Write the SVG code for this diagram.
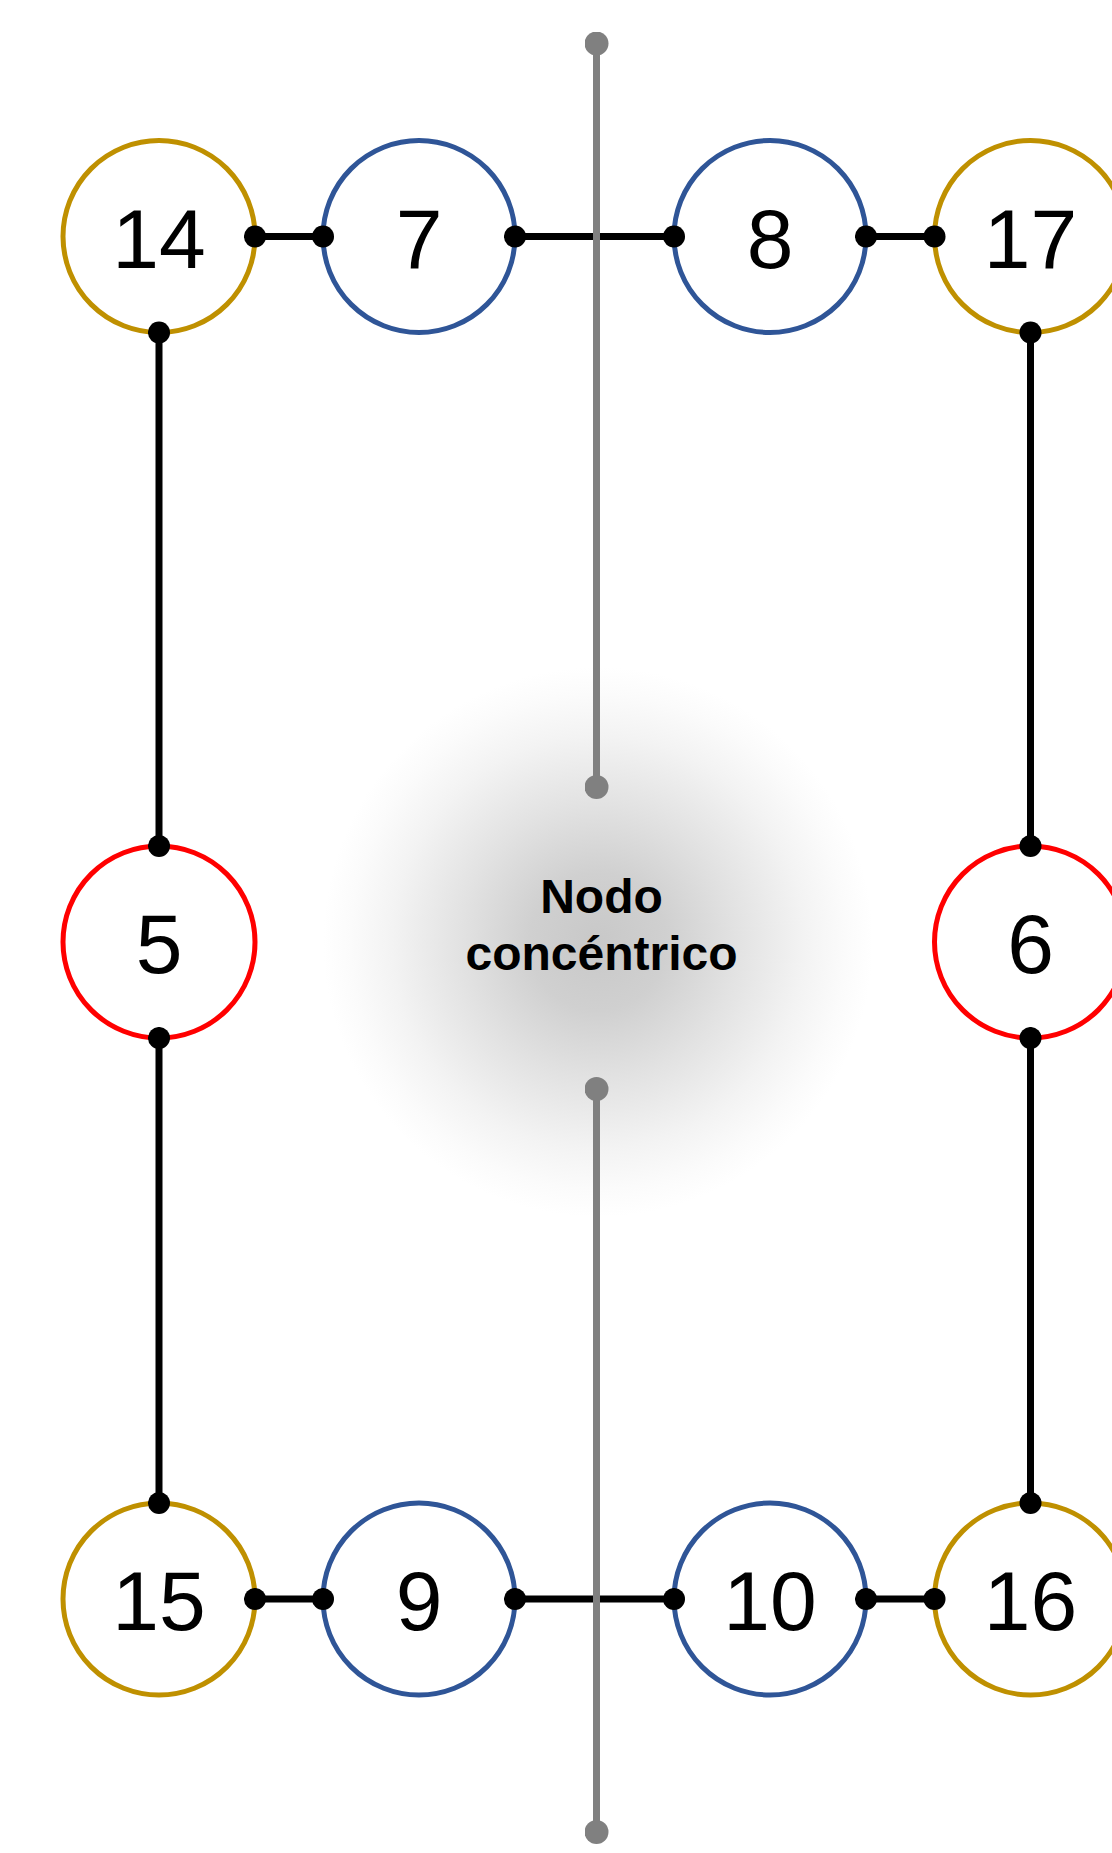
<svg xmlns="http://www.w3.org/2000/svg" width="1112" height="1853" viewBox="0 0 1112 1853">
<defs>
<radialGradient id="glow" cx="598" cy="942" r="275" gradientUnits="userSpaceOnUse">
<stop offset="0" stop-color="#c8c8c8"/>
<stop offset="0.25" stop-color="#d0d0d0"/>
<stop offset="0.5" stop-color="#e2e2e2"/>
<stop offset="0.75" stop-color="#f3f3f3"/>
<stop offset="0.9" stop-color="#fbfbfb"/>
<stop offset="1" stop-color="#ffffff"/>
</radialGradient>
<marker id="dot" viewBox="-12 -12 24 24" markerWidth="23" markerHeight="23" markerUnits="userSpaceOnUse" refX="0" refY="0" orient="auto">
<circle r="11.5" fill="#000"/>
</marker>
<marker id="gdot" viewBox="-12 -12 24 24" markerWidth="24" markerHeight="24" markerUnits="userSpaceOnUse" refX="0" refY="0" orient="auto">
<circle r="12" fill="#808080"/>
</marker>
</defs>
<style>
.node{fill:#fff;stroke-width:5}
.gold{stroke:#BF9000}
.blue{stroke:#2F5597}
.red{stroke:#FF0000}
.num{font-family:"Liberation Sans",Arial,sans-serif;font-size:84px;text-anchor:middle;fill:#000}
.edge{stroke:#000;stroke-width:7;fill:none;marker-start:url(#dot);marker-end:url(#dot)}
.axis{stroke:#808080;stroke-width:7;fill:none;marker-start:url(#gdot);marker-end:url(#gdot)}
.center{font-family:"Liberation Sans",Arial,sans-serif;font-size:48px;font-weight:bold;text-anchor:middle;fill:#000}
</style>
<rect width="1112" height="1853" fill="#fff"/>
<g id="concentric">
<circle cx="598" cy="942" r="275" fill="url(#glow)"/>
<text class="center" x="601.5" y="913">Nodo</text>
<text class="center" x="601.5" y="970">concéntrico</text>
</g>
<g id="n14"><circle class="node gold" cx="159" cy="236.5" r="96"/><text class="num" x="159" y="267.5">14</text></g>
<g id="n7"><circle class="node blue" cx="419" cy="236.5" r="96"/><text class="num" x="419" y="267.5">7</text></g>
<g id="n8"><circle class="node blue" cx="770" cy="236.5" r="96"/><text class="num" x="770" y="267.5">8</text></g>
<g id="n17"><circle class="node gold" cx="1030.5" cy="236.5" r="96"/><text class="num" x="1030.5" y="267.5">17</text></g>
<g id="n5"><circle class="node red" cx="159" cy="942" r="96"/><text class="num" x="159" y="973">5</text></g>
<g id="n6"><circle class="node red" cx="1030.5" cy="942" r="96"/><text class="num" x="1030.5" y="973">6</text></g>
<g id="n15"><circle class="node gold" cx="159" cy="1599" r="96"/><text class="num" x="159" y="1630">15</text></g>
<g id="n9"><circle class="node blue" cx="419" cy="1599" r="96"/><text class="num" x="419" y="1630">9</text></g>
<g id="n10"><circle class="node blue" cx="770" cy="1599" r="96"/><text class="num" x="770" y="1630">10</text></g>
<g id="n16"><circle class="node gold" cx="1030.5" cy="1599" r="96"/><text class="num" x="1030.5" y="1630">16</text></g>
<g id="connectors">
<line class="edge" x1="255" y1="236.5" x2="323" y2="236.5"/>
<line class="edge" x1="515" y1="236.5" x2="674" y2="236.5"/>
<line class="edge" x1="866" y1="236.5" x2="934.5" y2="236.5"/>
<line class="edge" x1="159" y1="332.5" x2="159" y2="846"/>
<line class="edge" x1="159" y1="1038" x2="159" y2="1503"/>
<line class="edge" x1="1030.5" y1="332.5" x2="1030.5" y2="846"/>
<line class="edge" x1="1030.5" y1="1038" x2="1030.5" y2="1503"/>
<line class="edge" x1="255" y1="1599" x2="323" y2="1599"/>
<line class="edge" x1="515" y1="1599" x2="674" y2="1599"/>
<line class="edge" x1="866" y1="1599" x2="934.5" y2="1599"/>
<line class="axis" x1="596.5" y1="43.5" x2="596.5" y2="787"/>
<line class="axis" x1="596.5" y1="1089" x2="596.5" y2="1832"/>
</g>
</svg>
